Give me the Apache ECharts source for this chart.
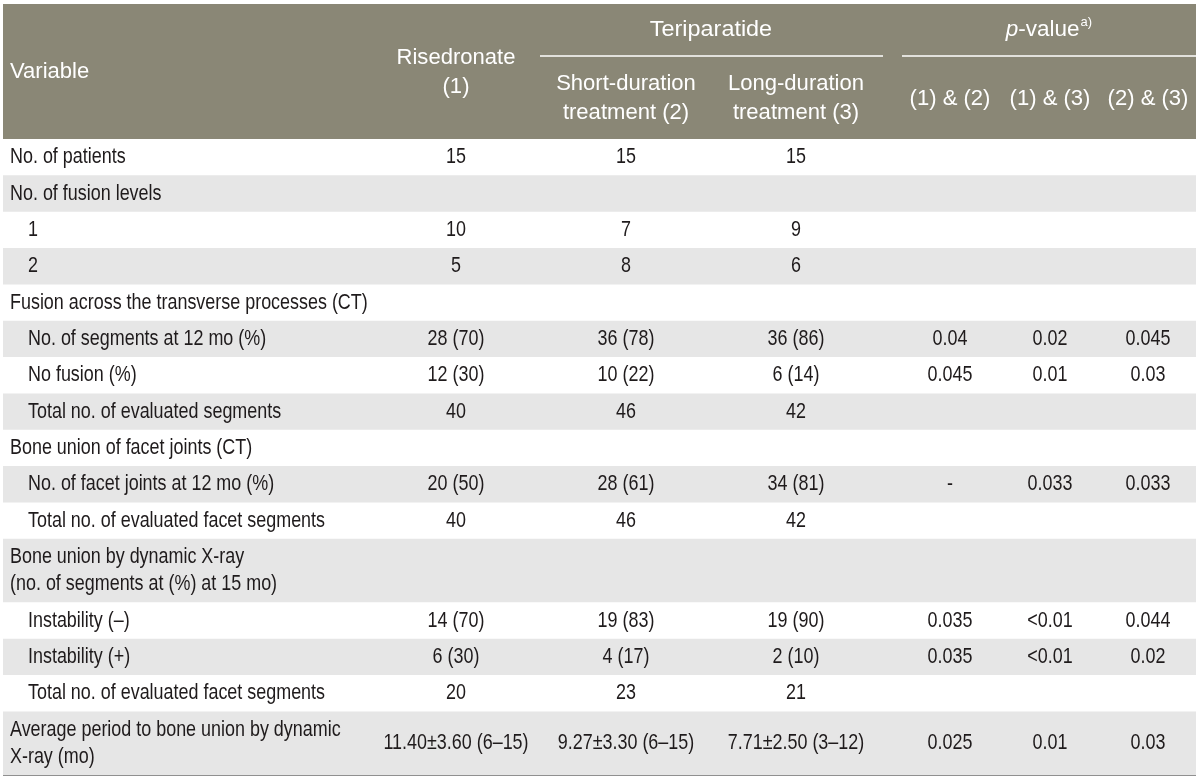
<!DOCTYPE html>
<html>
<head>
<meta charset="utf-8">
<script src="https://cdn.jsdelivr.net/npm/echarts@6/dist/echarts.min.js"></script>
<style>html,body{margin:0;padding:0;background:#fff}#c{width:1200px;height:780px}</style>
</head>
<body>
<div id="c"></div>
<script>
// ---------------- data ----------------
const rowLabels = [
  'No. of patients',
  'No. of fusion levels',
  '1',
  '2',
  'Fusion across the transverse processes (CT)',
  'No. of segments at 12 mo (%)',
  'No fusion (%)',
  'Total no. of evaluated segments',
  'Bone union of facet joints (CT)',
  'No. of facet joints at 12 mo (%)',
  'Total no. of evaluated facet segments',
  'Bone union by dynamic X-ray\n(no. of segments at (%) at 15 mo)',
  'Instability (\u2013)',
  'Instability (+)',
  'Total no. of evaluated facet segments',
  'Average period to bone union by dynamic\nX-ray (mo)'
];
const rowIndent = [0, 0, 1, 1, 0, 1, 1, 1, 0, 1, 1, 0, 1, 1, 1, 0];
const risedronate = ['15', '', '10', '5', '', '28 (70)', '12 (30)', '40', '', '20 (50)', '40', '', '14 (70)', '6 (30)', '20', '11.40\u00b13.60 (6\u201315)'];
const shortDuration = ['15', '', '7', '8', '', '36 (78)', '10 (22)', '46', '', '28 (61)', '46', '', '19 (83)', '4 (17)', '23', '9.27\u00b13.30 (6\u201315)'];
const longDuration = ['15', '', '9', '6', '', '36 (86)', '6 (14)', '42', '', '34 (81)', '42', '', '19 (90)', '2 (10)', '21', '7.71\u00b12.50 (3\u201312)'];
const p12 = ['', '', '', '', '', '0.04', '0.045', '', '', '-', '', '', '0.035', '0.035', '', '0.025'];
const p13 = ['', '', '', '', '', '0.02', '0.01', '', '', '0.033', '', '', '<0.01', '<0.01', '', '0.01'];
const p23 = ['', '', '', '', '', '0.045', '0.03', '', '', '0.033', '', '', '0.044', '0.02', '', '0.03'];
const headerVariable = 'Variable';
const headerGroups = ['Teriparatide', 'p-value'];
const headerCols = ['Risedronate\n(1)', 'Short-duration\ntreatment (2)', 'Long-duration\ntreatment (3)', '(1) & (2)', '(1) & (3)', '(2) & (3)'];
const footnoteMark = 'a)';

// ---------------- layout / style ----------------
const TABLE_W = 1193;
const HEADER_UNITS = 3.715;
const DOUBLE_UNITS = 1.75;
const colX = [453, 623, 793, 947, 1047, 1145];
const labelX = 7, indentX = 25;
const HEAD_BG = '#8a8776', ROW_BG = '#e6e6e6', TXT = '#1f1b1c';
const BODY_FONT = '22px "Liberation Sans", Arial, sans-serif';
const BODY_SCALE = 0.815;
const HEAD_FONT = '22.5px "Liberation Sans", Arial, sans-serif';
const HEAD_SCALE = 0.98;
const HEAD_FONT_I = 'italic 22.5px "Liberation Sans", Arial, sans-serif';
const SUP_FONT = '13px "Liberation Sans", Arial, sans-serif';

const rowSpan = rowLabels.map(l => l.indexOf('\n') >= 0 ? DOUBLE_UNITS : 1);
const rowStart = [];
let acc = HEADER_UNITS;
rowSpan.forEach(s => { rowStart.push(acc); acc += s; });
const TOTAL = acc;

const valueCols = [risedronate, shortDuration, longDuration, p12, p13, p23];

const mctx = document.createElement('canvas').getContext('2d');
function tw(text, font) { mctx.font = font; return mctx.measureText(text).width; }

function txt(x, y, text, font, fill, align, lh, sx) {
  return {
    type: 'text',
    silent: true,
    x: x, y: y,
    scaleX: sx || 1,
    style: {
      x: 0, y: 0, text: text, font: font, fill: fill, textFill: fill,
      align: align, textAlign: align,
      verticalAlign: 'middle', textVerticalAlign: 'middle',
      lineHeight: lh || 27, textLineHeight: lh || 27
    }
  };
}

function renderRow(params, api) {
  const i = params.dataIndex;
  const y0 = api.coord([0, rowStart[i]])[1];
  const y1 = api.coord([0, rowStart[i] + rowSpan[i]])[1];
  const x0 = api.coord([0, 0])[0];
  const x1 = api.coord([TABLE_W, 0])[0];
  const cy = (y0 + y1) / 2;
  const children = [];
  if (i % 2 === 1) {
    children.push({ type: 'rect', silent: true, shape: { x: x0, y: y0, width: x1 - x0, height: y1 - y0 }, style: { fill: ROW_BG } });
  }
  const lx = api.coord([rowIndent[i] ? indentX : labelX, 0])[0];
  children.push(txt(lx, cy, rowLabels[i], BODY_FONT, TXT, 'left', 27.5, BODY_SCALE));
  valueCols.forEach((col, c) => {
    if (col[i] !== '') {
      children.push(txt(api.coord([colX[c], 0])[0], cy, col[i], BODY_FONT, TXT, 'center', 27, BODY_SCALE));
    }
  });
  return { type: 'group', children: children };
}

function renderHeader(params, api) {
  const yOf = u => api.coord([0, u])[1];
  const xOf = v => api.coord([v, 0])[0];
  const children = [];
  children.push({ type: 'rect', silent: true, shape: { x: xOf(0), y: yOf(0), width: xOf(TABLE_W) - xOf(0), height: yOf(HEADER_UNITS) - yOf(0) }, style: { fill: HEAD_BG } });
  const yGroup = yOf(0.715), yLine = yOf(1.431), yMid = yOf(1.87), ySub = yOf(2.6);
  children.push(txt(xOf(labelX), yMid, headerVariable, HEAD_FONT, '#fff', 'left', 29, HEAD_SCALE));
  children.push(txt(xOf(colX[0]), yMid, headerCols[0], HEAD_FONT, '#fff', 'center', 29, HEAD_SCALE));
  for (let c = 1; c < 6; c++) {
    children.push(txt(xOf(colX[c]), ySub, headerCols[c], HEAD_FONT, '#fff', 'center', 29, HEAD_SCALE));
  }
  // group titles
  children.push(txt(xOf(708), yGroup, headerGroups[0], HEAD_FONT, '#fff', 'center', 29, 1.04));
  const pPart = headerGroups[1].slice(0, 1), rest = headerGroups[1].slice(1);
  const wP = tw(pPart, HEAD_FONT_I), wR = tw(rest, HEAD_FONT), wS = tw(footnoteMark, SUP_FONT);
  let sx = xOf(1046) - (wP + wR + wS + 1) / 2;
  children.push(txt(sx, yGroup, pPart, HEAD_FONT_I, '#fff', 'left'));
  children.push(txt(sx + wP, yGroup, rest, HEAD_FONT, '#fff', 'left'));
  children.push(txt(sx + wP + wR + 1, yGroup - 8, footnoteMark, SUP_FONT, '#fff', 'left', 14));
  // spanner lines
  children.push({ type: 'line', silent: true, shape: { x1: xOf(537), y1: yLine, x2: xOf(880), y2: yLine }, style: { stroke: '#fff', lineWidth: 1.5 } });
  children.push({ type: 'line', silent: true, shape: { x1: xOf(899), y1: yLine, x2: xOf(TABLE_W), y2: yLine }, style: { stroke: '#fff', lineWidth: 1.5 } });
  // bottom rule
  const yb = yOf(TOTAL);
  children.push({ type: 'line', silent: true, shape: { x1: xOf(0), y1: yb, x2: xOf(TABLE_W), y2: yb }, style: { stroke: '#6b6b6b', lineWidth: 1.5 } });
  return { type: 'group', children: children };
}

const chart = echarts.init(document.getElementById('c'), null, { renderer: 'canvas' });
chart.setOption({
  animation: false,
  backgroundColor: '#fff',
  grid: { left: 3, top: 4, width: TABLE_W, height: 771 },
  xAxis: { type: 'value', min: 0, max: TABLE_W, show: false },
  yAxis: { type: 'value', min: 0, max: TOTAL, inverse: true, show: false },
  tooltip: { show: false },
  series: [
    { type: 'custom', name: 'header', clip: false, data: [[0, 0]], renderItem: renderHeader, encode: { x: 0, y: 1 } },
    { type: 'custom', name: 'rows', clip: false, data: rowLabels.map((l, i) => [0, rowStart[i]]), renderItem: renderRow, encode: { x: 0, y: 1 } }
  ]
});
</script>
</body>
</html>
